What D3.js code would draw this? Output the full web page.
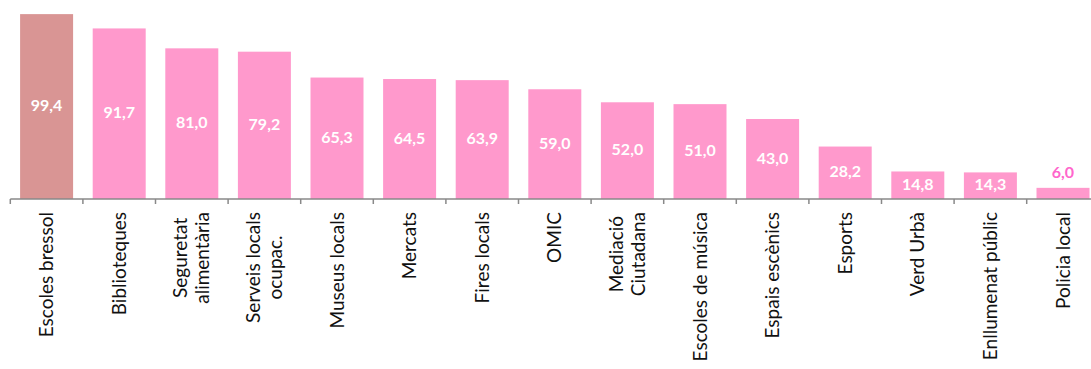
<!DOCTYPE html>
<html>
<head>
<meta charset="utf-8">
<script src="https://cdn.jsdelivr.net/npm/d3@7"></script>
<style>
  html, body { margin: 0; padding: 0; background: #ffffff; }
  svg { display: block; }
</style>
</head>
<body>
<svg id="chart" width="1091" height="369"></svg>
<script>
// Service categories (line breaks marked with "\n")
const categories = [
  "Escoles bressol", "Biblioteques", "Seguretat\nalimentària", "Serveis locals\nocupac.",
  "Museus locals", "Mercats", "Fires locals", "OMIC", "Mediació\nCiutadana",
  "Escoles de música", "Espais escènics", "Esports", "Verd Urbà",
  "Enllumenat públic", "Policia local"
];
const values = [99.4, 91.7, 81.0, 79.2, 65.3, 64.5, 63.9, 59.0, 52.0, 51.0, 43.0, 28.2, 14.8, 14.3, 6.0];
const highlighted = ["Escoles bressol"];

const W = 1091, H = 369;
const axisY = 199;
const left = 10.3, step = 72.6;

const svg = d3.select("#chart");

const x = d3.scaleBand()
  .domain(categories)
  .range([left, left + step * categories.length])
  .paddingInner(0.27)
  .paddingOuter(0.135);

const y = d3.scaleLinear().domain([0, 100]).range([axisY, 13]);

const fmt = v => d3.format(".1f")(v).replace(".", ",");

// Bars
svg.append("g").selectAll("rect")
  .data(categories)
  .join("rect")
  .attr("x", d => x(d))
  .attr("width", x.bandwidth())
  .attr("y", (d, i) => y(values[i]))
  .attr("height", (d, i) => axisY - y(values[i]))
  .attr("fill", d => highlighted.includes(d) ? "#D99594" : "#FF99CC");

// Value labels: centred inside the bar, above it when the bar is too short
svg.append("g").selectAll("text")
  .data(categories)
  .join("text")
  .attr("x", d => x(d) + x.bandwidth() / 2)
  .attr("y", (d, i) => {
    const h = axisY - y(values[i]);
    return h < 20 ? y(values[i]) - 15 : (y(values[i]) + axisY) / 2 - 1;
  })
  .attr("dy", "0.35em")
  .attr("text-anchor", "middle")
  .attr("font-family", "Lato, 'Open Sans', sans-serif")
  .attr("font-weight", "bold")
  .attr("font-size", "16px")
  .attr("fill", (d, i) => (axisY - y(values[i])) < 20 ? "#FF66CC" : "#FFFFFF")
  .text((d, i) => fmt(values[i]));

// Category axis: baseline and boundary ticks
const axis = svg.append("g");
axis.append("line")
  .attr("x1", x.range()[0]).attr("x2", x.range()[1])
  .attr("y1", axisY).attr("y2", axisY)
  .attr("stroke", "#898989").attr("stroke-width", 1.5);

const boundaries = categories.map(d => x(d) - x.step() * x.paddingInner() / 2);
boundaries.push(x.range()[1]);
axis.selectAll("line.tick")
  .data(boundaries)
  .join("line")
  .attr("class", "tick")
  .attr("x1", d => d).attr("x2", d => d)
  .attr("y1", axisY).attr("y2", axisY + 5)
  .attr("stroke", "#898989").attr("stroke-width", 1.5);

// Rotated category labels
const labelTop = 212;
const lineH = 22;
categories.forEach(cat => {
  const lines = cat.split("\n");
  const g = svg.append("g")
    .attr("transform", `translate(${x(cat) + x.bandwidth() / 2},${labelTop}) rotate(-90)`);
  const texts = lines.map((ln, i) =>
    g.append("text")
      .attr("font-family", "Lato, 'Open Sans', sans-serif")
      .attr("font-size", "19px")
      .attr("fill", "#111111")
      .attr("dy", "0.35em")
      .attr("y", (i - (lines.length - 1) / 2) * lineH)
      .text(ln));
  const maxLen = d3.max(texts, t => t.node().getComputedTextLength());
  texts.forEach(t => t.attr("text-anchor", "middle").attr("x", -maxLen / 2));
});
</script>
</body>
</html>
